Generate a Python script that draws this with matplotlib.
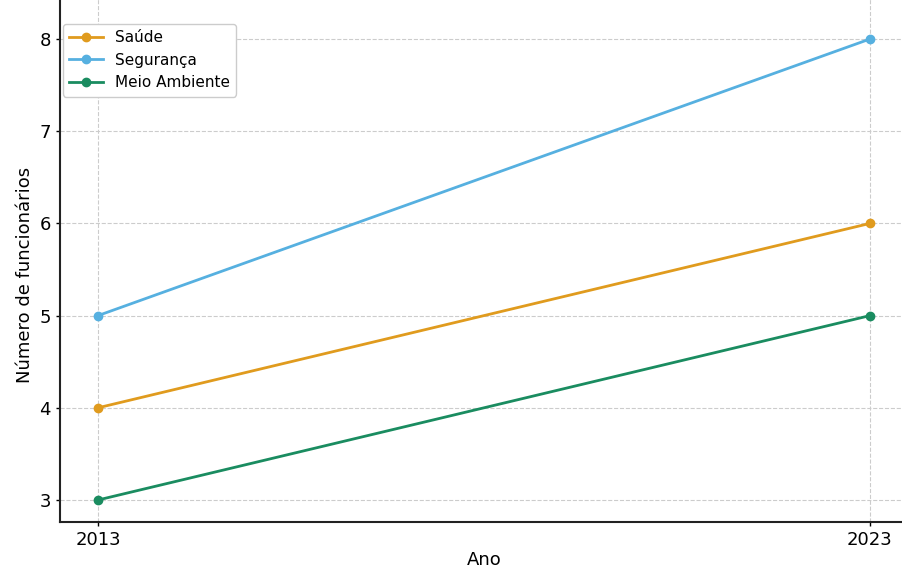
import matplotlib.pyplot as plt

anos = [2013, 2023]
saude = [4, 6]
seguranca = [5, 8]
meio_ambiente = [3, 5]

cores = {
    "Saúde": "#E09B1E",
    "Segurança": "#56B0E0",
    "Meio Ambiente": "#1A8C60",
}

W, H = 902, 571
fig = plt.figure(figsize=(W / 100, H / 100), dpi=100)

# eixo posicionado em pixels (estende-se além da borda superior e direita)
left, right, bottom, top = 60, 920, 522, -10
ax = fig.add_axes([left / W, (H - bottom) / H, (right - left) / W, (bottom - top) / H])

for nome, valores in [("Saúde", saude), ("Segurança", seguranca), ("Meio Ambiente", meio_ambiente)]:
    ax.plot(anos, valores, marker="o", markersize=6, linewidth=2, color=cores[nome], label=nome)

px_ano = (870 - 98) / 10
px_un = (500 - 39) / 5
ax.set_xlim(2013 - (98 - left) / px_ano, 2023 + (right - 870) / px_ano)
ax.set_ylim(3 - (bottom - 500) / px_un, 8 + (39 - top) / px_un)

ax.set_xticks(anos)
ax.set_yticks([3, 4, 5, 6, 7, 8])
ax.tick_params(labelsize=13, length=3, width=1)
ax.grid(True, linestyle="--", color="#cccccc", linewidth=0.8)

for s in ["top", "right"]:
    ax.spines[s].set_visible(False)
for s in ["left", "bottom"]:
    ax.spines[s].set_linewidth(1.5)
    ax.spines[s].set_color("#222222")

ax.set_xlabel("Ano", fontsize=13)
ax.set_ylabel("Número de funcionários", fontsize=13)
ax.xaxis.set_label_coords((484 - left) / (right - left), -(560 - bottom) / (bottom - top), transform=ax.transAxes)
ax.yaxis.set_label_coords(-(60 - 25) / (right - left), (bottom - 275) / (bottom - top), transform=ax.transAxes)
ax.xaxis.label.set_va("center")
ax.yaxis.label.set_va("center")

ax.legend(loc="upper left", bbox_to_anchor=(0.0035, 0.936), fontsize=11, framealpha=1,
          edgecolor="#cccccc", handlelength=2.2, borderaxespad=0)

fig.savefig("out.png", dpi=100)
